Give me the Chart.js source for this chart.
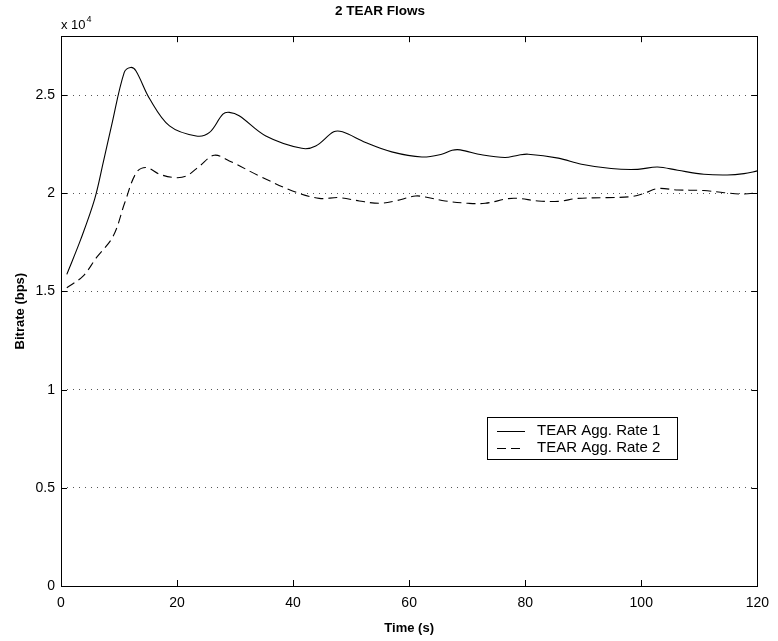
<!DOCTYPE html>
<html>
<head>
<meta charset="utf-8">
<script src="https://cdn.jsdelivr.net/npm/chart.js@4/dist/chart.umd.min.js"></script>
<style>
  html, body { margin: 0; padding: 0; background: #fff; }
  #wrap { width: 778px; height: 641px; }
</style>
</head>
<body>
<div id="wrap"><canvas id="chart" width="778" height="641"></canvas></div>
<script>
// Data (time in s, bitrate in bps)
const time1 = [1, 3.4, 5.8, 7.3, 8.7, 10.9, 12, 12.9, 15.3, 18.7, 23.3, 25.6, 27.9, 29, 30.7, 35.3, 41.5, 43.9, 47, 48.5, 52.5, 57, 62.2, 65.6, 67.4, 68.8, 72.5, 76.5, 78.8, 80.5, 85.7, 89.7, 94.8, 99.4, 102.8, 106.3, 110.8, 114.8, 117.7, 120];
const rate1 = [15870, 17650, 19700, 21600, 23430, 26160, 26410, 26240, 24800, 23430, 22920, 23100, 24030, 24120, 23950, 22920, 22290, 22410, 23130, 23130, 22590, 22110, 21850, 21990, 22190, 22210, 21960, 21820, 21940, 21990, 21790, 21480, 21260, 21220, 21340, 21170, 20970, 20930, 21000, 21140];
const time2 = [1, 3.8, 6.1, 9, 11, 13, 14.7, 17, 19.6, 21.6, 23.9, 26.4, 29, 34.2, 39.9, 44.5, 47.9, 51.4, 54.8, 57.6, 61.1, 62.8, 66.2, 70.2, 73.1, 77.1, 78.8, 82.2, 85.7, 89.1, 94.2, 98.2, 100.5, 102.8, 106.3, 110.8, 114.3, 117.7, 120];
const rate2 = [15190, 15780, 16720, 17820, 19530, 21060, 21310, 20970, 20800, 20880, 21390, 21940, 21650, 20880, 20120, 19740, 19780, 19610, 19490, 19610, 19860, 19810, 19610, 19490, 19490, 19730, 19740, 19610, 19590, 19740, 19780, 19830, 20000, 20240, 20170, 20140, 20030, 19960, 20030];
const seriesLabels = ['TEAR Agg. Rate 1', 'TEAR Agg. Rate 2'];
const xTicks = [0, 20, 40, 60, 80, 100, 120];
const yTicks = [0, 5000, 10000, 15000, 20000, 25000];

const FONT = '"Liberation Sans", Arial, Helvetica, sans-serif';

const toPoints = (xs, ys) => xs.map((x, i) => ({ x: x, y: ys[i] }));

// frame, inward tick marks, exponent label and legend box (MATLAB look)
const matlabFrame = {
    id: 'matlabFrame',
    afterDatasetsDraw(chart) {
        const { ctx, chartArea: a, scales } = chart;
        ctx.save();
        ctx.strokeStyle = '#000';
        ctx.lineWidth = 1;
        ctx.strokeRect(Math.round(a.left) + 0.5, Math.round(a.top) + 0.5,
            Math.round(a.right - a.left), Math.round(a.bottom - a.top));
        ctx.beginPath();
        xTicks.forEach(v => {
            const px = Math.round(scales.x.getPixelForValue(v)) + 0.5;
            ctx.moveTo(px, a.bottom); ctx.lineTo(px, a.bottom - 6);
            ctx.moveTo(px, a.top); ctx.lineTo(px, a.top + 6);
        });
        yTicks.forEach(v => {
            const py = Math.round(scales.y.getPixelForValue(v)) + 0.5;
            ctx.moveTo(a.left, py); ctx.lineTo(a.left + 6, py);
            ctx.moveTo(a.right, py); ctx.lineTo(a.right - 6, py);
        });
        ctx.stroke();

        // exponent label
        ctx.fillStyle = '#000';
        ctx.textBaseline = 'alphabetic';
        ctx.textAlign = 'left';
        ctx.font = '13px ' + FONT;
        ctx.fillText('x 10', a.left, a.top - 7);
        const w = ctx.measureText('x 10').width;
        ctx.font = '9px ' + FONT;
        ctx.fillText('4', a.left + w + 1, a.top - 14);

        // legend
        const bx = 487, by = 417, bw = 190, bh = 42;
        ctx.fillStyle = '#fff';
        ctx.fillRect(bx, by, bw, bh);
        ctx.strokeRect(bx + 0.5, by + 0.5, bw, bh);
        ctx.font = '15px ' + FONT;
        ctx.textBaseline = 'middle';
        chart.data.datasets.forEach((ds, i) => {
            const cy = by + 14 + i * 16.5;
            ctx.beginPath();
            ctx.setLineDash(ds.borderDash || []);
            ctx.moveTo(bx + 10, Math.round(cy) + 0.5);
            ctx.lineTo(bx + 38, Math.round(cy) + 0.5);
            ctx.stroke();
            ctx.setLineDash([]);
            ctx.fillStyle = '#000';
            ctx.fillText(ds.label, bx + 50, cy);
        });
        ctx.restore();
    }
};

new Chart(document.getElementById('chart'), {
    type: 'line',
    data: {
        datasets: [{
            label: seriesLabels[0],
            data: toPoints(time1, rate1),
            borderColor: '#000',
            borderWidth: 1.1,
            pointRadius: 0,
            tension: 0.35
        }, {
            label: seriesLabels[1],
            data: toPoints(time2, rate2),
            borderColor: '#000',
            borderWidth: 1.1,
            borderDash: [9, 5],
            pointRadius: 0,
            tension: 0.35
        }]
    },
    options: {
        responsive: false,
        animation: false,
        events: [],
        layout: { padding: { top: 0, left: 0, right: 18, bottom: 0 } },
        plugins: {
            legend: { display: false },
            tooltip: { enabled: false },
            title: {
                display: true,
                text: '2 TEAR Flows',
                color: '#000',
                font: { family: FONT, size: 13.5, weight: 'bold' },
                padding: { top: 3, bottom: 17 }
            }
        },
        scales: {
            x: {
                type: 'linear',
                min: 0,
                max: 120,
                afterBuildTicks: s => { s.ticks = xTicks.map(v => ({ value: v })); },
                afterFit: s => { s.height = 55; },
                grid: { display: false, drawTicks: false },
                border: { display: false },
                ticks: { color: '#000', font: { family: FONT, size: 14 }, padding: 9, maxRotation: 0 },
                title: {
                    display: true,
                    text: 'Time (s)',
                    color: '#000',
                    font: { family: FONT, size: 13, weight: 'bold' },
                    padding: { top: 0, bottom: 5 }
                }
            },
            y: {
                min: 0,
                max: 28000,
                afterBuildTicks: s => { s.ticks = yTicks.map(v => ({ value: v })); },
                afterFit: s => { s.width = 61; },
                grid: {
                    color: '#555',
                    lineWidth: 1,
                    drawTicks: false
                },
                border: { display: false, dash: [1, 5] },
                ticks: {
                    color: '#000',
                    font: { family: FONT, size: 14 },
                    padding: 6,
                    callback: v => String(v / 10000)
                },
                title: {
                    display: true,
                    text: 'Bitrate (bps)',
                    color: '#000',
                    font: { family: FONT, size: 13, weight: 'bold' },
                    padding: { top: 13, bottom: 0 }
                }
            }
        }
    },
    plugins: [matlabFrame]
});
</script>
</body>
</html>
